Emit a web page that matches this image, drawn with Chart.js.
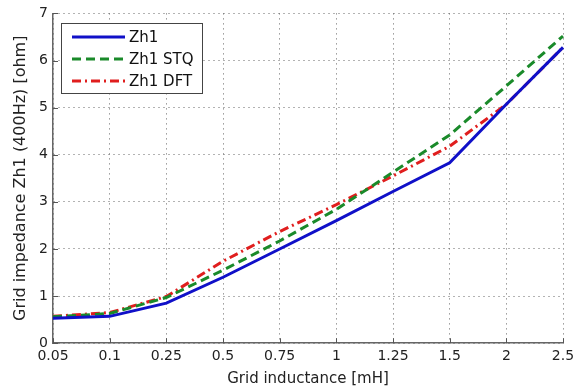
<!DOCTYPE html>
<html>
<head>
<meta charset="utf-8">
<script src="https://cdn.jsdelivr.net/npm/chart.js@4/dist/chart.umd.min.js"></script>
<style>
  html, body { margin: 0; padding: 0; background: #fff; }
  #wrap { width: 580px; height: 390px; }
</style>
</head>
<body>
<div id="wrap"><canvas id="lineChart" width="580" height="390"></canvas></div>
<script>
// Grid inductance [mH] categories
const inductance = ['0.05', '0.1', '0.25', '0.5', '0.75', '1', '1.25', '1.5', '2', '2.5'];
// Grid impedance values [ohm]
const zh1    = [0.53, 0.57, 0.85, 1.4, 2.0, 2.6, 3.22, 3.83, 5.07, 6.28];
const zh1Stq = [0.56, 0.63, 0.97, 1.55, 2.17, 2.84, 3.63, 4.42, 5.46, 6.52];
const zh1Dft = [0.57, 0.65, 0.99, 1.74, 2.37, 2.94, 3.55, 4.18, 5.07, 6.28];
const yTicks = [0, 1, 2, 3, 4, 5, 6, 7];

const font = 'DejaVu Sans';

// legend drawn inside the plot, top-left, like the original figure
const boxLegend = {
    id: 'boxLegend',
    afterDatasetsDraw(chart) {
        const ctx = chart.ctx;
        const x0 = 61, y0 = 23, w = 141, h = 70;
        ctx.save();
        ctx.fillStyle = '#fff';
        ctx.fillRect(x0, y0, w, h);
        ctx.strokeStyle = '#444';
        ctx.lineWidth = 1;
        ctx.strokeRect(x0 + 0.5, y0 + 0.5, w, h);
        chart.data.datasets.forEach((ds, i) => {
            const y = y0 + 14 + i * 22;
            ctx.beginPath();
            ctx.setLineDash(ds.borderDash || []);
            ctx.strokeStyle = ds.borderColor;
            ctx.lineWidth = ds.borderWidth;
            ctx.moveTo(x0 + 11, y);
            ctx.lineTo(x0 + 64, y);
            ctx.stroke();
            ctx.setLineDash([]);
            ctx.fillStyle = '#111';
            ctx.font = '15px ' + font;
            ctx.textBaseline = 'middle';
            ctx.fillText(ds.label, x0 + 68, y + 1);
        });
        ctx.restore();
    }
};

// small inward tick marks on the left and bottom axes
const inwardTicks = {
    id: 'inwardTicks',
    afterDraw(chart) {
        const ctx = chart.ctx;
        const area = chart.chartArea;
        const xs = chart.scales.x, ys = chart.scales.y;
        ctx.save();
        ctx.strokeStyle = '#555';
        ctx.lineWidth = 1;
        ctx.beginPath();
        xs.ticks.forEach((t, i) => {
            const px = Math.round(xs.getPixelForTick(i)) + 0.5;
            ctx.moveTo(px, area.bottom);
            ctx.lineTo(px, area.bottom - 5);
        });
        ys.ticks.forEach(t => {
            const py = Math.round(ys.getPixelForValue(t.value)) + 0.5;
            ctx.moveTo(area.left, py);
            ctx.lineTo(area.left + 5, py);
        });
        ctx.stroke();
        ctx.restore();
    }
};

const ctx = document.getElementById('lineChart').getContext('2d');
new Chart(ctx, {
    type: 'line',
    data: {
        labels: inductance,
        datasets: [
            {
                label: 'Zh1',
                data: zh1,
                borderColor: '#1010c8',
                borderWidth: 3,
                pointRadius: 0,
                tension: 0
            },
            {
                label: 'Zh1 STQ',
                data: zh1Stq,
                borderColor: '#1a8a2a',
                borderWidth: 3,
                borderDash: [9, 5],
                pointRadius: 0,
                tension: 0
            },
            {
                label: 'Zh1 DFT',
                data: zh1Dft,
                borderColor: '#e01e1e',
                borderWidth: 3,
                borderDash: [9, 4, 2, 4],
                pointRadius: 0,
                tension: 0
            }
        ]
    },
    options: {
        responsive: false,
        animation: false,
        layout: { padding: { top: 8, right: 17, left: 11, bottom: 0 } },
        plugins: {
            legend: { display: false },
            tooltip: { enabled: false }
        },
        scales: {
            x: {
                grid: {
                    color: '#666',
                    lineWidth: 1,
                    drawTicks: false
                },
                border: { color: '#666', width: 1.5, dash: [1, 4] },
                ticks: {
                    color: '#222',
                    font: { family: font, size: 14 },
                    padding: 5,
                    maxRotation: 0,
                    autoSkip: false
                },
                title: {
                    display: true,
                    text: 'Grid inductance [mH]',
                    color: '#222',
                    font: { family: font, size: 15 },
                    padding: { top: 0, bottom: 2 }
                }
            },
            y: {
                min: 0,
                max: 7,
                afterBuildTicks(scale) {
                    scale.ticks = yTicks.map(v => ({ value: v }));
                },
                afterFit(scale) { scale.width = 42; },
                grid: {
                    color: '#666',
                    lineWidth: 1,
                    drawTicks: false
                },
                border: { color: '#666', width: 1.5, dash: [1, 4] },
                ticks: {
                    color: '#222',
                    font: { family: font, size: 14 },
                    padding: 5
                },
                title: {
                    display: true,
                    text: 'Grid impedance Zh1 (400Hz) [ohm]',
                    color: '#222',
                    font: { family: font, size: 16 },
                    padding: { top: 0, bottom: 2 }
                }
            }
        }
    },
    plugins: [boxLegend, inwardTicks]
});
</script>
</body>
</html>
